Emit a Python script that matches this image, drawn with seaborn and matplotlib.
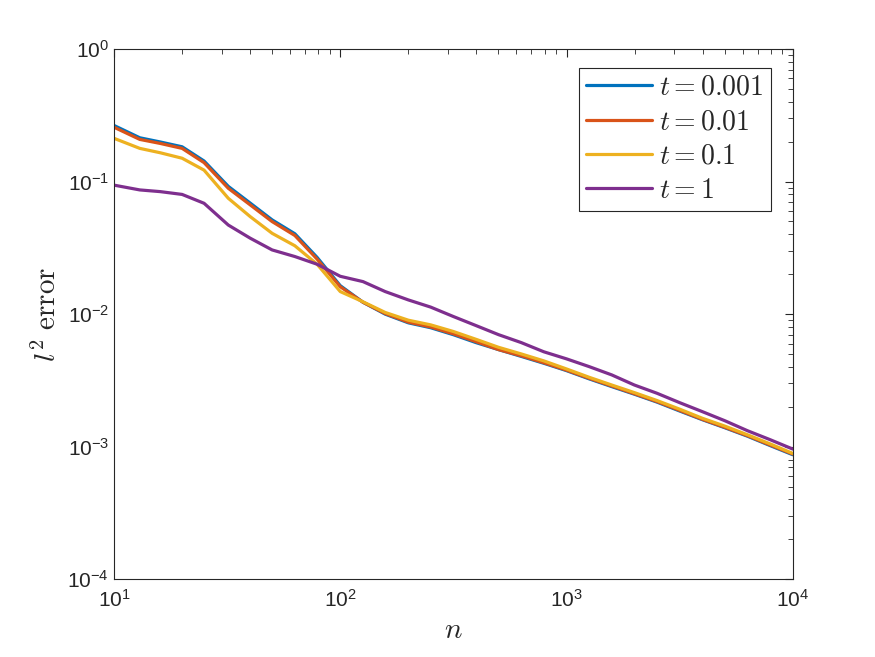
import numpy as np
import pandas as pd
import matplotlib
matplotlib.use('Agg')
import matplotlib.pyplot as plt
import seaborn as sns

# 데이터
n = [10, 13, 16, 20, 25, 32, 40, 50, 63, 79, 100, 126, 158, 200, 251, 316,
     398, 501, 631, 794, 1000, 1259, 1585, 1995, 2512, 3162, 3981, 5012,
     6310, 7943, 10000]

err_t0001 = [0.265, 0.214, 0.199, 0.183, 0.143, 0.092, 0.0688, 0.0514, 0.0404,
             0.0268, 0.0164, 0.0123, 0.0100, 0.0086, 0.0079, 0.0070, 0.0061,
             0.0054, 0.0048, 0.00426, 0.00375, 0.00325, 0.00284, 0.00249,
             0.00217, 0.00186, 0.00160, 0.00139, 0.00120, 0.00102, 0.00087]
err_t001 = [0.257, 0.208, 0.194, 0.178, 0.139, 0.089, 0.0667, 0.0499, 0.0392,
            0.0260, 0.0161, 0.0123, 0.0101, 0.0087, 0.0080, 0.0071, 0.0062,
            0.0054, 0.00485, 0.0043, 0.00378, 0.00328, 0.00287, 0.00251,
            0.00219, 0.00188, 0.00161, 0.00140, 0.00121, 0.00103, 0.00088]
err_t01 = [0.212, 0.178, 0.165, 0.150, 0.122, 0.0748, 0.0544, 0.0407, 0.0328,
           0.0238, 0.0148, 0.0124, 0.0103, 0.0090, 0.0083, 0.0074, 0.00646,
           0.00562, 0.00501, 0.00444, 0.00386, 0.00334, 0.00292, 0.00256,
           0.00223, 0.00192, 0.00164, 0.00143, 0.00123, 0.00105, 0.00089]
err_t1 = [0.094, 0.0865, 0.084, 0.080, 0.0686, 0.047, 0.0374, 0.0305, 0.0272,
          0.0238, 0.0193, 0.0176, 0.0148, 0.0128, 0.0113, 0.0096, 0.0082,
          0.0070, 0.0061, 0.0052, 0.0046, 0.00402, 0.00348, 0.00292, 0.00253,
          0.00215, 0.00184, 0.00157, 0.00132, 0.00113, 0.00096]

labels = [r'$t = \mathrm{0.001}$', r'$t = \mathrm{0.01}$',
          r'$t = \mathrm{0.1}$', r'$t = \mathrm{1}$']
colors = ['#0072BD', '#D95319', '#EDB120', '#7E2F8E']

df = pd.concat([
    pd.DataFrame({'n': n, 'err': e, 't': lab})
    for e, lab in zip([err_t0001, err_t001, err_t01, err_t1], labels)
])

sns.set_style('white')
plt.rcParams['font.family'] = ['Liberation Sans', 'DejaVu Sans']
plt.rcParams['mathtext.fontset'] = 'cm'  # 축 이름, 범례는 LaTeX 느낌

fig = plt.figure(figsize=(8.75, 6.57), dpi=100)
ax = fig.add_axes([0.1303, 0.1183, 0.7757, 0.8071])

sns.lineplot(data=df, x='n', y='err', hue='t', palette=colors,
             linewidth=2.3, ax=ax, sort=False)

ax.set_xscale('log')
ax.set_yscale('log')
ax.set_xlim(10, 1e4)
ax.set_ylim(1e-4, 1)

ax.tick_params(which='both', direction='in', top=True, right=True,
               colors='#262626', labelsize=15)
ax.tick_params(which='major', length=6, width=0.8)
ax.tick_params(which='minor', length=3.5, width=0.6)
ax.tick_params(axis='x', pad=7)
for s in ax.spines.values():
    s.set_color('#262626')
    s.set_linewidth(0.8)

ax.set_xlabel(r'$n$', fontsize=21, labelpad=4)
ax.set_ylabel(r'$l^2\ \mathrm{error}$', fontsize=21, labelpad=4)

leg = ax.legend(title=None, fontsize=20, loc='upper right',
                bbox_to_anchor=(0.98, 0.98), handlelength=2.4,
                handletextpad=0.25, labelspacing=0.3, borderpad=0.25,
                borderaxespad=0.3,
                fancybox=False, framealpha=1, edgecolor='#262626')
leg.get_frame().set_linewidth(0.8)
for line in leg.get_lines():
    line.set_linewidth(2.3)

plt.savefig('out.png', dpi=100)
